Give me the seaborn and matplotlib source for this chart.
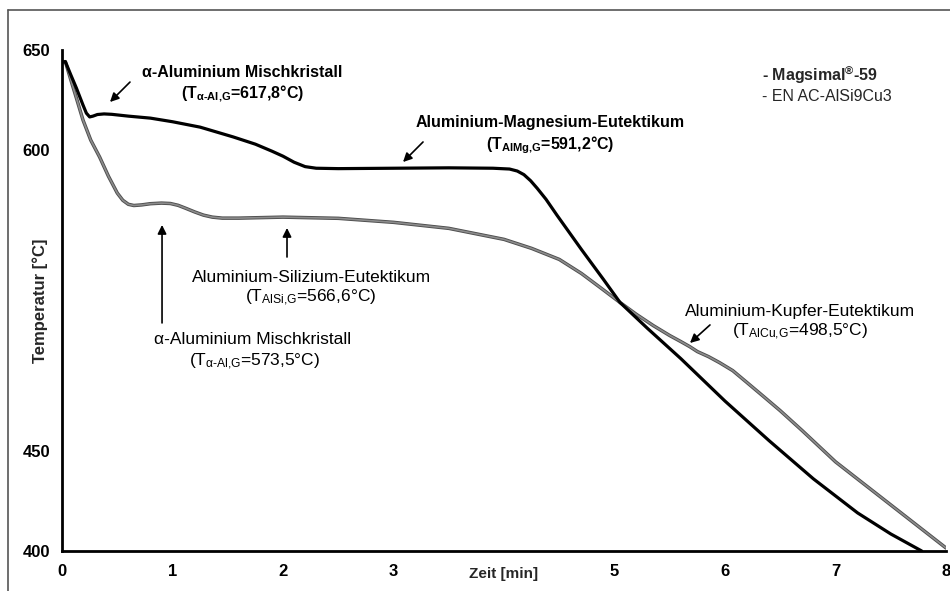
import matplotlib
matplotlib.use("Agg")
import matplotlib.pyplot as plt
import matplotlib.patheffects as pe
from matplotlib.lines import Line2D
import numpy as np
import pandas as pd
import seaborn as sns

# ---------------- data ----------------
magsimal_t = [0.00, 0.03, 0.08, 0.13, 0.19, 0.22, 0.25, 0.28, 0.32, 0.38, 0.45, 0.60,
              0.80, 1.00, 1.25, 1.55, 1.75, 1.90, 2.00, 2.10, 2.20, 2.30, 2.50, 3.00,
              3.50, 3.90, 4.05, 4.12, 4.18, 4.24, 4.30, 4.38, 4.48, 4.70, 4.90, 5.05,
              5.30, 5.60, 6.00, 6.40, 6.80, 7.20, 7.50, 7.78]
magsimal_T = [644.0, 644.2, 637.5, 631.0, 622.5, 618.5, 616.6, 617.0, 617.8, 618.1, 617.9, 617.0,
              616.0, 614.2, 611.5, 606.6, 603.0, 599.5, 597.0, 594.0, 591.8, 591.0, 590.8, 591.0,
              591.2, 591.0, 590.6, 589.6, 587.8, 584.8, 581.0, 575.5, 567.5, 550.5, 535.5, 524.0,
              511.0, 496.0, 474.8, 455.0, 436.0, 419.0, 408.5, 400.0]

alsi_t = [0.00, 0.03, 0.08, 0.13, 0.19, 0.26, 0.34, 0.42, 0.50, 0.55, 0.60, 0.65,
          0.72, 0.80, 0.90, 0.98, 1.05, 1.12, 1.20, 1.28, 1.36, 1.45, 1.60, 2.00,
          2.50, 3.00, 3.50, 4.00, 4.25, 4.50, 4.70, 4.87, 5.05, 5.20, 5.35, 5.50,
          5.60, 5.68, 5.75, 5.85, 5.95, 6.07, 6.20, 6.34, 6.50, 6.70, 7.00, 7.50,
          8.00]
alsi_T = [644.0, 644.2, 635.0, 626.0, 615.0, 605.0, 596.6, 587.0, 578.6, 575.0, 573.0, 572.4,
          572.7, 573.3, 573.6, 573.4, 572.5, 571.0, 569.2, 567.6, 566.6, 566.1, 566.1, 566.6,
          566.0, 564.0, 561.0, 555.5, 551.0, 545.5, 538.5, 531.5, 524.0, 518.0, 512.5, 507.5,
          504.5, 502.0, 499.5, 497.0, 494.0, 490.0, 484.0, 477.5, 470.0, 460.0, 444.5, 423.0,
          401.5]

series_names = ["Magsimal-59", "EN AC-AlSi9Cu3"]
x_ticks = [0, 1, 2, 3, 4, 5, 6, 7, 8]
x_tick_labels = ["0", "1", "2", "3", "", "5", "6", "7", "8"]
y_ticks = [400, 450, 500, 550, 600, 650]
y_tick_labels = ["400", "450", "", "", "600", "650"]

df = pd.concat([
    pd.DataFrame({"Zeit": magsimal_t, "Temperatur": magsimal_T, "Legierung": series_names[0]}),
    pd.DataFrame({"Zeit": alsi_t, "Temperatur": alsi_T, "Legierung": series_names[1]}),
], ignore_index=True)

# ---------------- style ----------------
sns.set_theme(style="white")
plt.rcParams["font.family"] = ["Liberation Sans", "DejaVu Sans"]
plt.rcParams["mathtext.default"] = "regular"

fig = plt.figure(figsize=(9.5, 5.91), dpi=100)
ax = fig.add_axes([0.0653, 0.0677, 0.9305, 0.8477])

# gray curve (drawn first, under black)
sns.lineplot(data=df[df["Legierung"] == series_names[1]], x="Zeit", y="Temperatur",
             sort=False, estimator=None, color="#8c8c8c", linewidth=1.2, ax=ax,
             legend=False)
ax.lines[-1].set_path_effects([pe.Stroke(linewidth=2.5, foreground="#4d4d4d"), pe.Normal()])
ax.lines[-1].set_solid_joinstyle("round")
sns.lineplot(data=df[df["Legierung"] == series_names[0]], x="Zeit", y="Temperatur",
             sort=False, estimator=None, color="black", linewidth=2.3, ax=ax,
             legend=False)
ax.lines[-1].set_solid_joinstyle("round")

ax.set_xlim(0, 8)
ax.set_ylim(400, 650)
ax.set_xticks(x_ticks)
ax.set_xticklabels(x_tick_labels)
ax.set_yticks(y_ticks)
ax.set_yticklabels(y_tick_labels)

for s in ["top", "right"]:
    ax.spines[s].set_visible(False)
for s in ["left", "bottom"]:
    ax.spines[s].set_linewidth(2.0)
    ax.spines[s].set_color("black")

ax.tick_params(axis="both", direction="out", length=3.5, width=2.0, colors="black",
               labelsize=12)
ax.tick_params(axis="x", pad=6)
ax.tick_params(axis="y", pad=5)
for lab in ax.get_xticklabels() + ax.get_yticklabels():
    lab.set_fontweight("bold")

ax.set_xlabel("Zeit [min]", fontsize=11, fontweight="bold")
ax.xaxis.set_label_coords(0.5, -0.0459)
ax.xaxis.label.set_va("center")
ax.set_ylabel("Temperatur [°C]", fontsize=12, fontweight="bold")
ax.yaxis.set_label_coords(-0.0249, 0.5)
ax.yaxis.label.set_va("center")

# ---------------- annotations ----------------
fs_bold = 11.5
fs_norm = 12.5
H = "\u2010"
arrow = dict(arrowstyle="-|>", color="black", lw=1.2, mutation_scale=13,
             shrinkA=0, shrinkB=0)

def label(x, y, txt, bold):
    ax.text(x, y, txt, ha="center", va="center",
            fontsize=fs_bold if bold else fs_norm,
            fontweight="bold" if bold else "normal", color="black")

# alpha-Al (Magsimal)
label(1.629, 639.0, "α-Aluminium Mischkristall", True)
label(1.633, 628.3, "(T$_{α" + H + "Al{,}G}$=617,8°C)", True)
ax.annotate("", xy=(0.434, 624.05), xytext=(0.615, 634.0), arrowprops=arrow)

# Al-Mg eutectic
label(4.416, 613.6, "Aluminium-Magnesium-Eutektikum", True)
label(4.416, 602.6, "(T$_{AlMg{,}G}$=591,2°C)", True)
ax.annotate("", xy=(3.086, 594.1), xytext=(3.267, 604.1), arrowprops=arrow)

# Al-Si eutectic
label(2.258, 536.7, "Aluminium-Silizium-Eutektikum", False)
label(2.253, 526.2, "(T$_{AlSi{,}G}$=566,6°C)", False)
ax.annotate("", xy=(2.036, 561.2), xytext=(2.036, 546.7), arrowprops=arrow)

# alpha-Al (AlSi9Cu3)
label(1.728, 505.3, "α-Aluminium Mischkristall", False)
label(1.747, 494.3, "(T$_{α" + H + "Al{,}G}$=573,5°C)", False)
ax.annotate("", xy=(0.905, 562.7), xytext=(0.905, 513.8), arrowprops=arrow)

# Al-Cu eutectic
label(6.679, 519.3, "Aluminium-Kupfer-Eutektikum", False)
label(6.679, 509.3, "(T$_{AlCu{,}G}$=498,5°C)", False)
ax.annotate("", xy=(5.683, 503.8), xytext=(5.864, 512.8), arrowprops=arrow)

# legend text
ax.text(6.335, 637.5, "- Magsimal$^{®}$-59", ha="left", va="center", fontsize=fs_bold,
        fontweight="bold")
ax.text(6.335, 627.0, "- EN AC-AlSi9Cu3", ha="left", va="center", fontsize=fs_bold)

# figure frame (left and top edge visible)
fx, fy = 8 / 950, 1 - 10 / 591
fig.add_artist(Line2D([fx, fx], [0, fy], transform=fig.transFigure, color="#555555", lw=1.2))
fig.add_artist(Line2D([fx, 1], [fy, fy], transform=fig.transFigure, color="#555555", lw=1.2))

fig.savefig("out.png", dpi=100)
